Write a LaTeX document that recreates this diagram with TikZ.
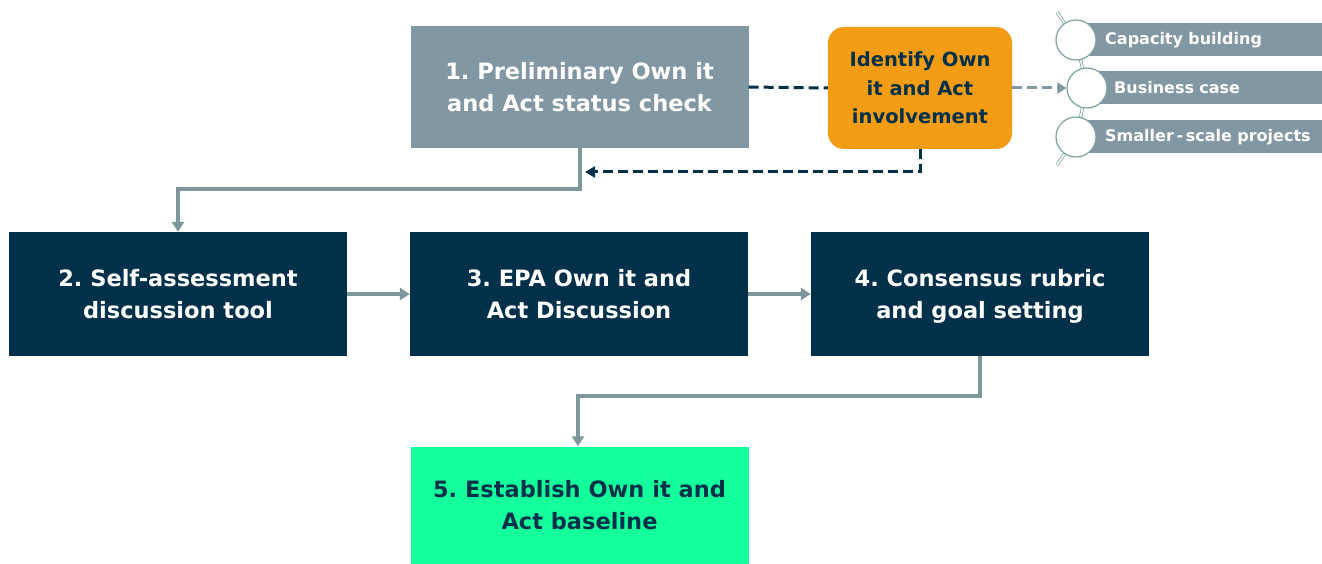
\documentclass[tikz,border=0pt]{standalone}
\usepackage{fontspec}
\setmainfont{DejaVu Sans}
\frenchspacing
\usepackage{tikz}
\usetikzlibrary{shapes,positioning,arrows.meta}
\definecolor{stepgray}{HTML}{8197A4}
\definecolor{stepnavy}{HTML}{00304A}
\definecolor{steporange}{HTML}{F39C14}
\definecolor{stepgreen}{HTML}{14FF9B}
\definecolor{flowgray}{HTML}{7E979A}
\definecolor{ringgray}{HTML}{7FA0A0}
\tikzstyle{every node}=[font=\bfseries]
\tikzstyle{stepbox}=[rectangle,minimum width=338pt,minimum height=124pt,align=center,font=\bfseries\fontsize{22.5}{32}\selectfont]
\tikzstyle{checkbox}=[stepbox,fill=stepgray,text=white,minimum height=122pt]
\tikzstyle{darkbox}=[stepbox,fill=stepnavy,text=white]
\tikzstyle{goalbox}=[stepbox,fill=stepgreen,text=stepnavy,minimum height=117pt]
\tikzstyle{flagbox}=[rectangle,rounded corners=16pt,fill=steporange,text=stepnavy,minimum width=184pt,minimum height=122pt,align=center,font=\bfseries\fontsize{19.5}{28.5}\selectfont]
\tikzstyle{listbar}=[rectangle,anchor=west,fill=stepgray,text=white,minimum height=33pt,inner xsep=0pt,text width=246pt,align=left,font=\bfseries\fontsize{16}{18}\selectfont]
\tikzstyle{ring}=[circle,draw=ringgray,fill=white,line width=1.2pt,minimum size=40pt,inner sep=0pt]
\tikzstyle{chain}=[double=white,draw=ringgray,line width=0.8pt,double distance=1.6pt]
\tikzstyle{flow}=[draw=flowgray,line width=3.5pt,-{Triangle[width=12pt,length=10pt]}]
\tikzstyle{loopback}=[draw=stepnavy,line width=3pt,dash pattern=on 10pt off 5pt]
\tikzstyle{loopgray}=[draw=stepgray,line width=3pt,dash pattern=on 10pt off 5pt]

\begin{document}
\begin{tikzpicture}[x=1pt,y=-1pt]
  \useasboundingbox (0,0) rectangle (1322,564);
  % steps
  \node[checkbox] (check) at (579.5,87) {1. Preliminary Own it\\and Act status check};
  \node[flagbox] (flag) at (920,88) {Identify Own\\it and Act\\involvement};
  \node[darkbox] (selfassess) at (178,294) {2. Self-assessment\\discussion tool};
  \node[darkbox] (epa) at (579,294) {3. EPA Own it and\\Act Discussion};
  \node[darkbox,text depth=0pt] (rubric) at (980,294) {4. Consensus rubric\\and goal setting};
  \node[goalbox] (baseline) at (579.5,505) {5. Establish Own it and\\Act baseline};
  % involvement options
  \node[listbar] (capacity) at (1076,40) {\hspace*{29pt}Capacity building};
  \node[listbar] (business) at (1087,88) {\hspace*{27pt}Business case};
  \node[listbar] (smaller) at (1076,137) {\hspace*{29pt}Smaller\,-\,scale projects};
  \coordinate (chaintop) at (1057,12);
  \coordinate (chainbot) at (1057,165);
  \draw[chain] (chaintop) -- (1076,40) -- (1087,88) -- (1076,137) -- (chainbot);
  \node[ring] (ringa) at (1076,40) {};
  \node[ring] (ringb) at (1087,88) {};
  \node[ring] (ringc) at (1076,137) {};
  % connectors
  \draw[loopback] (check.east) -- (flag.west);
  \draw[loopgray,-{Triangle[width=11pt,length=9pt]}] (flag.east) -- (ringb.west);
  \draw[loopback,-{Triangle[width=11pt,length=10pt]}] (flag.south) |- (585,172);
  \draw[flow] (580,148) |- (178,189) -- (selfassess.north);
  \draw[flow] (selfassess.east) -- (epa.west);
  \draw[flow] (epa.east) -- (rubric.west);
  \draw[flow] (rubric.south -| 980,356) |- (578,396) -- (baseline.north -| 578,446);
\end{tikzpicture}
\end{document}
